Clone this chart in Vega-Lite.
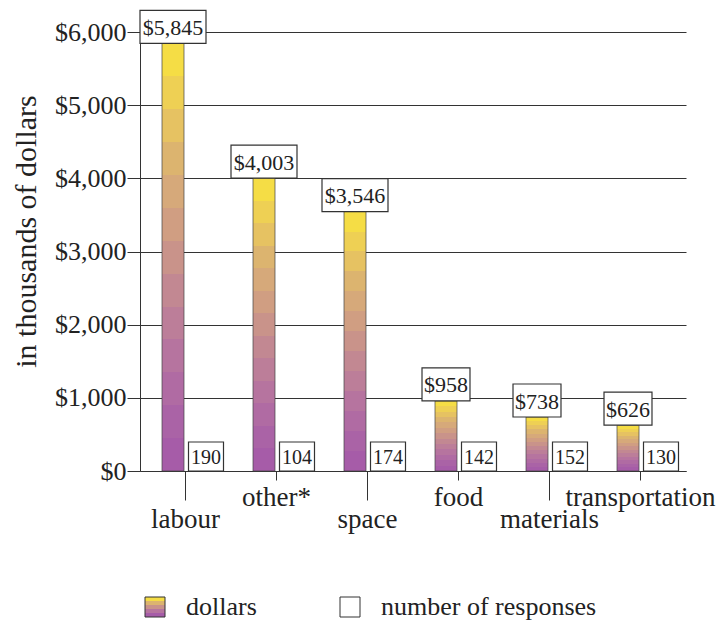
{
  "$schema": "https://vega.github.io/schema/vega-lite/v6.json",
  "autosize": {"type": "none"},
  "width": 546,
  "height": 439,
  "padding": {"left": 140, "top": 32, "right": 32, "bottom": 157},
  "background": "white",
  "config": {
    "view": {"stroke": null},
    "font": "Liberation Serif",
    "text": {"font": "Liberation Serif", "color": "#222"}
  },
  "data": {
    "values": [
      {"category": "labour", "dollars": 5845, "responses": 190},
      {"category": "other*", "dollars": 4003, "responses": 104},
      {"category": "space", "dollars": 3546, "responses": 174},
      {"category": "food", "dollars": 958, "responses": 142},
      {"category": "materials", "dollars": 738, "responses": 152},
      {"category": "transportation", "dollars": 626, "responses": 130}
    ]
  },
  "encoding": {
    "x": {
      "field": "category",
      "type": "nominal",
      "sort": null,
      "scale": {"paddingInner": 0, "paddingOuter": 0},
      "axis": {
        "title": null,
        "labelAngle": 0,
        "labelFont": "Liberation Serif",
        "labelFontSize": 27,
        "labelColor": "#222",
        "labelBaseline": "alphabetic",
        "domainColor": "#333",
        "tickColor": "#333",
        "tickSize": {"condition": {"test": "indexof(['other*','food','transportation'], datum.value) >= 0", "value": 9}, "value": 29},
        "labelPadding": {"condition": {"test": "indexof(['other*','food','transportation'], datum.value) >= 0", "value": 25}, "value": 27}
      }
    }
  },
  "layer": [
    {
      "mark": {
        "type": "bar",
        "width": 22,
        "xOffset": -12.5,
        "stroke": "#444",
        "strokeWidth": 0.7,
        "fill": {
          "gradient": "linear", "x1": 0, "y1": 1, "x2": 0, "y2": 0,
          "stops": [
            {"offset": 0, "color": "#a65ca8"}, {"offset": 0.0769, "color": "#a65ca8"},
            {"offset": 0.0769, "color": "#aa63a6"}, {"offset": 0.1538, "color": "#aa63a6"},
            {"offset": 0.1538, "color": "#b06ba3"}, {"offset": 0.2308, "color": "#b06ba3"},
            {"offset": 0.2308, "color": "#b6749f"}, {"offset": 0.3077, "color": "#b6749f"},
            {"offset": 0.3077, "color": "#bc7e99"}, {"offset": 0.3846, "color": "#bc7e99"},
            {"offset": 0.3846, "color": "#c28892"}, {"offset": 0.4615, "color": "#c28892"},
            {"offset": 0.4615, "color": "#c9938a"}, {"offset": 0.5385, "color": "#c9938a"},
            {"offset": 0.5385, "color": "#d09e82"}, {"offset": 0.6154, "color": "#d09e82"},
            {"offset": 0.6154, "color": "#d6a97a"}, {"offset": 0.6923, "color": "#d6a97a"},
            {"offset": 0.6923, "color": "#dcb46f"}, {"offset": 0.7692, "color": "#dcb46f"},
            {"offset": 0.7692, "color": "#e6c262"}, {"offset": 0.8462, "color": "#e6c262"},
            {"offset": 0.8462, "color": "#eed054"}, {"offset": 0.9231, "color": "#eed054"},
            {"offset": 0.9231, "color": "#f5dd45"}, {"offset": 1, "color": "#f5dd45"}
          ]
        }
      },
      "encoding": {
        "y": {
          "field": "dollars",
          "type": "quantitative",
          "scale": {"domain": [0, 6000], "nice": false},
          "axis": {
            "values": [0, 500, 1000, 1500, 2000, 2500, 3000, 3500, 4000, 4500, 5000, 5500, 6000],
            "labelExpr": "datum.value % 1000 === 0 ? '$' + format(datum.value, ',') : ''",
            "tickSize": {"condition": {"test": "datum.value % 1000 !== 0", "value": 7}, "value": 13},
            "gridOpacity": {"condition": {"test": "datum.value % 1000 !== 0", "value": 0}, "value": 1},
            "grid": true,
            "gridColor": "#333",
            "gridWidth": 1,
            "domainColor": "#333",
            "tickColor": "#333",
            "labelFont": "Liberation Serif",
            "labelFontSize": 26,
            "labelColor": "#222",
            "labelPadding": 1,
            "title": "in thousands of dollars",
            "titleFont": "Liberation Serif",
            "titleFontSize": 30,
            "titleFontWeight": "normal",
            "titleColor": "#222",
            "titleX": -105,
            "titleY": 199,
            "titleBaseline": "alphabetic",
            "titleAngle": -90
          }
        }
      }
    },
    {
      "mark": {"type": "point", "filled": true, "fill": "white", "stroke": "#333", "strokeWidth": 1.2, "opacity": 1, "xOffset": -12.5, "yOffset": -16.5, "size": 4356},
      "encoding": {
        "y": {"field": "dollars", "type": "quantitative"},
        "shape": {
          "condition": {"test": "datum.dollars >= 1000", "value": "M-1,-0.5L1,-0.5L1,0.5L-1,0.5Z"},
          "value": "M-0.727,-0.5L0.727,-0.5L0.727,0.5L-0.727,0.5Z"
        }
      }
    },
    {
      "mark": {"type": "text", "xOffset": -12.5, "yOffset": -15.5, "baseline": "middle", "fontSize": 22, "font": "Liberation Serif", "color": "#222"},
      "encoding": {
        "y": {"field": "dollars", "type": "quantitative"},
        "text": {"field": "dollars", "type": "quantitative", "format": "$,.0f"}
      }
    },
    {
      "mark": {"type": "point", "filled": true, "strokeWidth": 1.2, "opacity": 1, "xOffset": 20.5, "yOffset": -14.5, "size": 1225, "shape": "M-1,-0.83L1,-0.83L1,0.83L-1,0.83Z"},
      "encoding": {
        "y": {"datum": 0, "type": "quantitative"},
        "fill": {
          "datum": "number of responses",
          "type": "nominal",
          "scale": {
            "domain": ["dollars", "number of responses"],
            "range": [
              {"expr": "{gradient: 'linear', x1: 0, y1: 1, x2: 0, y2: 0, stops: [{offset: 0, color: '#a65ca8'}, {offset: 0.2, color: '#a65ca8'}, {offset: 0.2, color: '#b6749f'}, {offset: 0.4, color: '#b6749f'}, {offset: 0.4, color: '#c9938a'}, {offset: 0.6, color: '#c9938a'}, {offset: 0.6, color: '#dcb46f'}, {offset: 0.8, color: '#dcb46f'}, {offset: 0.8, color: '#f5dd45'}, {offset: 1, color: '#f5dd45'}]}"},
              "white"
            ]
          },
          "legend": {
            "orient": "none",
            "legendX": 2,
            "legendY": 562,
            "direction": "horizontal",
            "title": null,
            "padding": 0,
            "symbolType": "square",
            "symbolSize": 400,
            "symbolStrokeWidth": 1,
            "symbolOpacity": 1,
            "labelFont": "Liberation Serif",
            "labelFontSize": 26,
            "labelColor": "#222",
            "labelOffset": 18,
            "labelLimit": 400,
            "columnPadding": 80
          }
        },
        "stroke": {
          "datum": "number of responses",
          "type": "nominal",
          "scale": {"domain": ["dollars", "number of responses"], "range": ["#333", "#333"]},
          "legend": {
            "orient": "none",
            "legendX": 2,
            "legendY": 562,
            "direction": "horizontal",
            "title": null,
            "padding": 0,
            "symbolType": "square",
            "symbolSize": 400,
            "symbolStrokeWidth": 1,
            "symbolOpacity": 1,
            "labelFont": "Liberation Serif",
            "labelFontSize": 26,
            "labelColor": "#222",
            "labelOffset": 18,
            "labelLimit": 400,
            "columnPadding": 80
          }
        }
      }
    },
    {
      "mark": {"type": "text", "xOffset": 20.5, "yOffset": -13.5, "baseline": "middle", "fontSize": 20, "font": "Liberation Serif", "color": "#222"},
      "encoding": {
        "y": {"datum": 0, "type": "quantitative"},
        "text": {"field": "responses", "type": "quantitative"}
      }
    }
  ]
}
